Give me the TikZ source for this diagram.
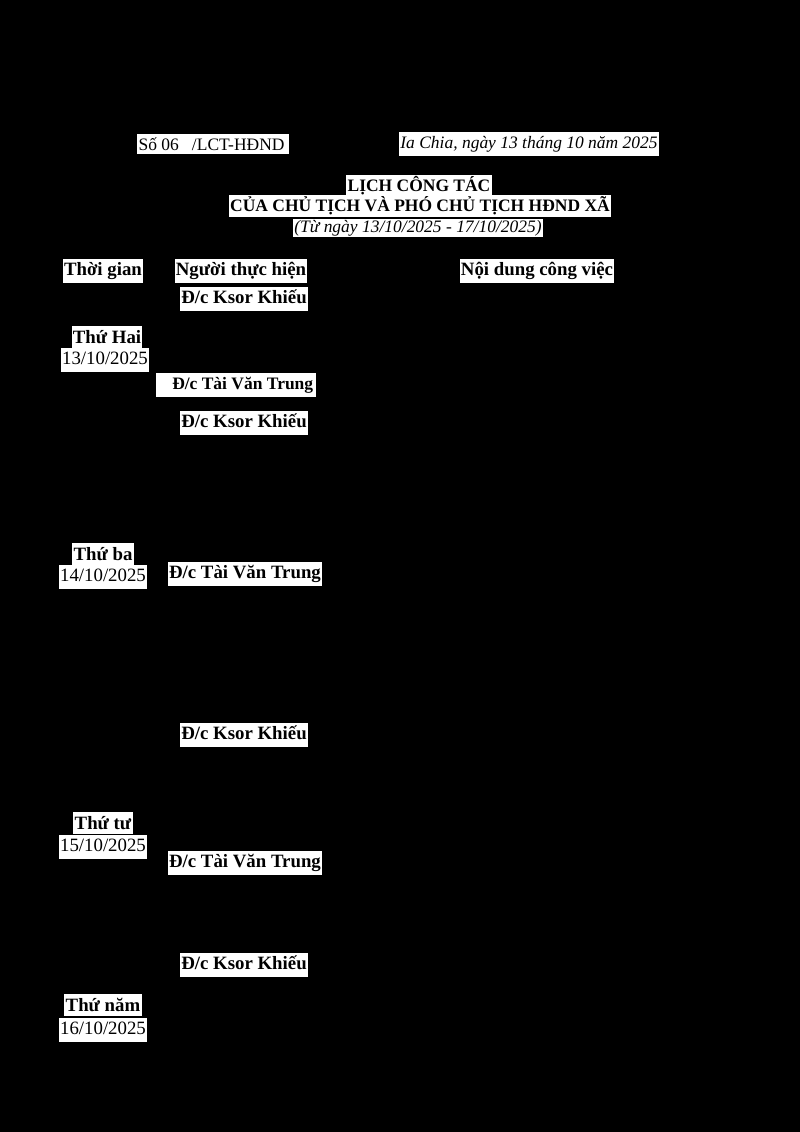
\documentclass[tikz,border=0pt]{standalone}
\usepackage{fontspec}
\setmainfont{Liberation Serif}
\usepackage{tikz}
\tikzset{>=stealth}
\tikzset{lbl/.style={fill=white, text=black, inner xsep=1pt, inner ysep=2.5pt, text height=10pt, text depth=3pt, font=\fontsize{14}{16}\selectfont},
  hd/.style={lbl, font=\fontsize{14}{16}\selectfont\bfseries},
  top/.style={fill=white, text=black, inner xsep=1pt, inner ysep=1pt, font=\fontsize{13}{15}\selectfont},
  it/.style={top, font=\fontsize{13}{15}\selectfont\itshape}}

\begin{document}
\begin{tikzpicture}[x=0.744pt, y=-0.744pt]
    \fill[black] (0,0) rectangle (800,1132);
    \node[top, inner ysep=3pt] (so) at (213,144) {Số 06 \ \ /LCT-HĐND\,};
    \node[it, inner ysep=3pt] (ngay) at (529,144) {Ia Chia, ngày 13 tháng 10 năm 2025};
    \node[top, font=\fontsize{13}{15}\selectfont\bfseries] (t1) at (419,186) {LỊCH CÔNG TÁC};
    \node[top, font=\fontsize{13}{15}\selectfont\bfseries] (t2) at (420,206) {CỦA CHỦ TỊCH VÀ PHÓ CHỦ TỊCH HĐND XÃ};
    \node[it] (t3) at (418,228) {(Từ ngày 13/10/2025 - 17/10/2025)};
    \node[hd] (thoi) at (103,271) {Thời gian};
    \node[hd] (nguoi) at (241,271) {Người thực hiện};
    \node[hd] (noi) at (537,271) {Nội dung công việc};
    % thu hai
    \node[hd] (k1) at (244,299) {Đ/c Ksor Khiếu};
    \node[hd, text depth=1pt] (d1) at (107,337) {Thứ Hai};
    \node[lbl] (n1) at (105,360) {13/10/2025};
    \node[hd, font=\fontsize{13}{15}\selectfont\bfseries, inner xsep=2pt] (tr1) at (236,385) {\hspace{10pt}Đ/c Tài Văn Trung};
    % thu ba
    \node[hd] (k2) at (244,423) {Đ/c Ksor Khiếu};
    \node[hd, text depth=1pt] (d2) at (103,554) {Thứ ba};
    \node[lbl] (n2) at (103,577) {14/10/2025};
    \node[hd] (tr2) at (245,574) {Đ/c Tài Văn Trung};
    % thu tu
    \node[hd] (k3) at (244,735) {Đ/c Ksor Khiếu};
    \node[hd, text depth=1pt] (d3) at (103,823) {Thứ tư};
    \node[lbl] (n3) at (103,847) {15/10/2025};
    \node[hd] (tr3) at (245,863) {Đ/c Tài Văn Trung};
    % thu nam
    \node[hd] (k4) at (244,965) {Đ/c Ksor Khiếu};
    \node[hd, text depth=1pt] (d4) at (103,1005) {Thứ năm};
    \node[lbl] (n4) at (103,1030) {16/10/2025};
\end{tikzpicture}
\end{document}
